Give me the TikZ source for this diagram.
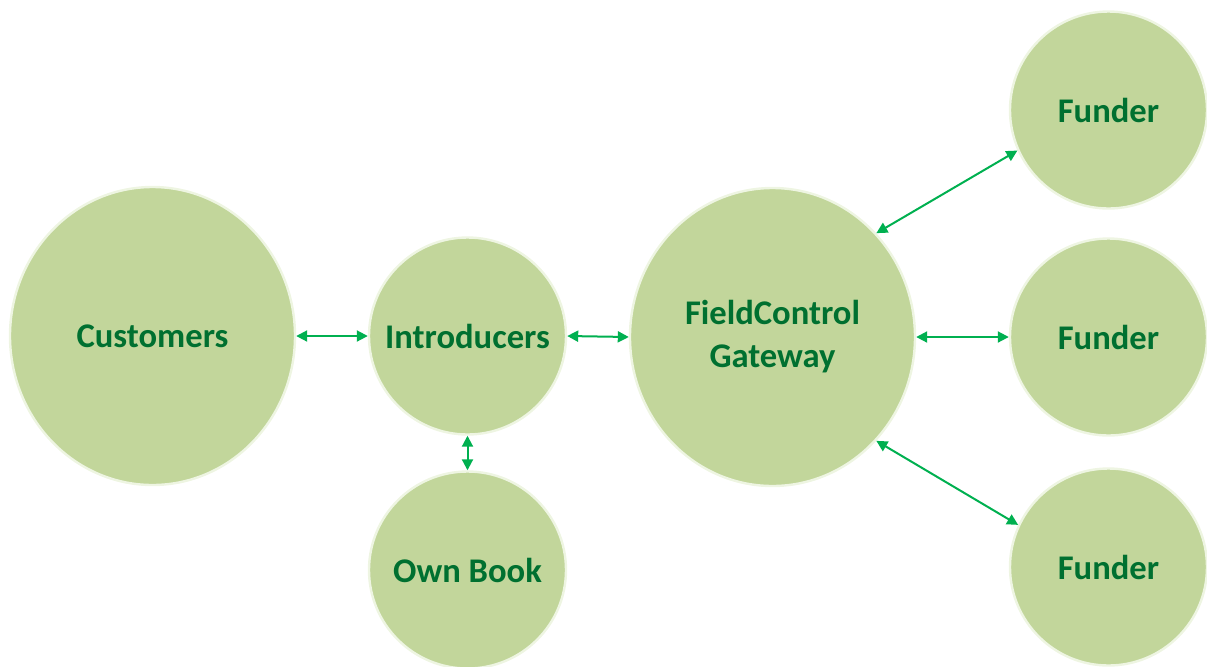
\documentclass[tikz,border=0pt]{standalone}
\usepackage{fontspec}
\setmainfont{Carlito}
\usetikzlibrary{shapes.geometric,arrows.meta}
\definecolor{fillg}{HTML}{C2D69B}
\definecolor{rimg}{HTML}{EEF5E2}
\definecolor{txtg}{HTML}{007030}
\definecolor{arrg}{HTML}{00B050}
\begin{document}
\begin{tikzpicture}[x=0.5pt,y=-0.5pt,
  bub/.style={ellipse, fill=fillg, draw=rimg, line width=1.2pt, inner sep=0pt},
  big/.style={bub, minimum width=142.5pt, minimum height=149pt},
  small/.style={bub, minimum width=98.5pt, minimum height=98.5pt},
  every label/.style={text=txtg, font=\bfseries\fontsize{17.3}{21.5}\selectfont,
    align=center, inner sep=0pt},
  link/.style={draw=arrg, line width=1pt,
    {Triangle[length=5.5pt,width=5.5pt]}-{Triangle[length=5.5pt,width=5.5pt]}}]
\useasboundingbox (0,0) rectangle (1207,666);
\node[big, label={center:Customers}] (cust) at (152.5,336) {};
\node[small, label={center:Introducers}] (intr) at (467.5,336) {};
\node[small, label={center:Own Book}] (own) at (467.5,570) {};
\node[big, label={center:FieldControl\\Gateway}] (gw) at (772.5,337) {};
\node[small, label={center:Funder}] (f1) at (1108.5,110) {};
\node[small, label={center:Funder}] (f2) at (1108.5,337) {};
\node[small, label={center:Funder}] (f3) at (1108.5,567) {};
\draw[link] (cust.east) -- (intr.west);
\draw[link] (intr.east) -- (gw.west);
\draw[link] (intr.south) -- (own.north);
\draw[link] (gw.east) -- (f2.west);
\draw[link] (gw.45) -- (f1.204);
\draw[link] (gw.315) -- (f3.155);
\end{tikzpicture}
\end{document}
